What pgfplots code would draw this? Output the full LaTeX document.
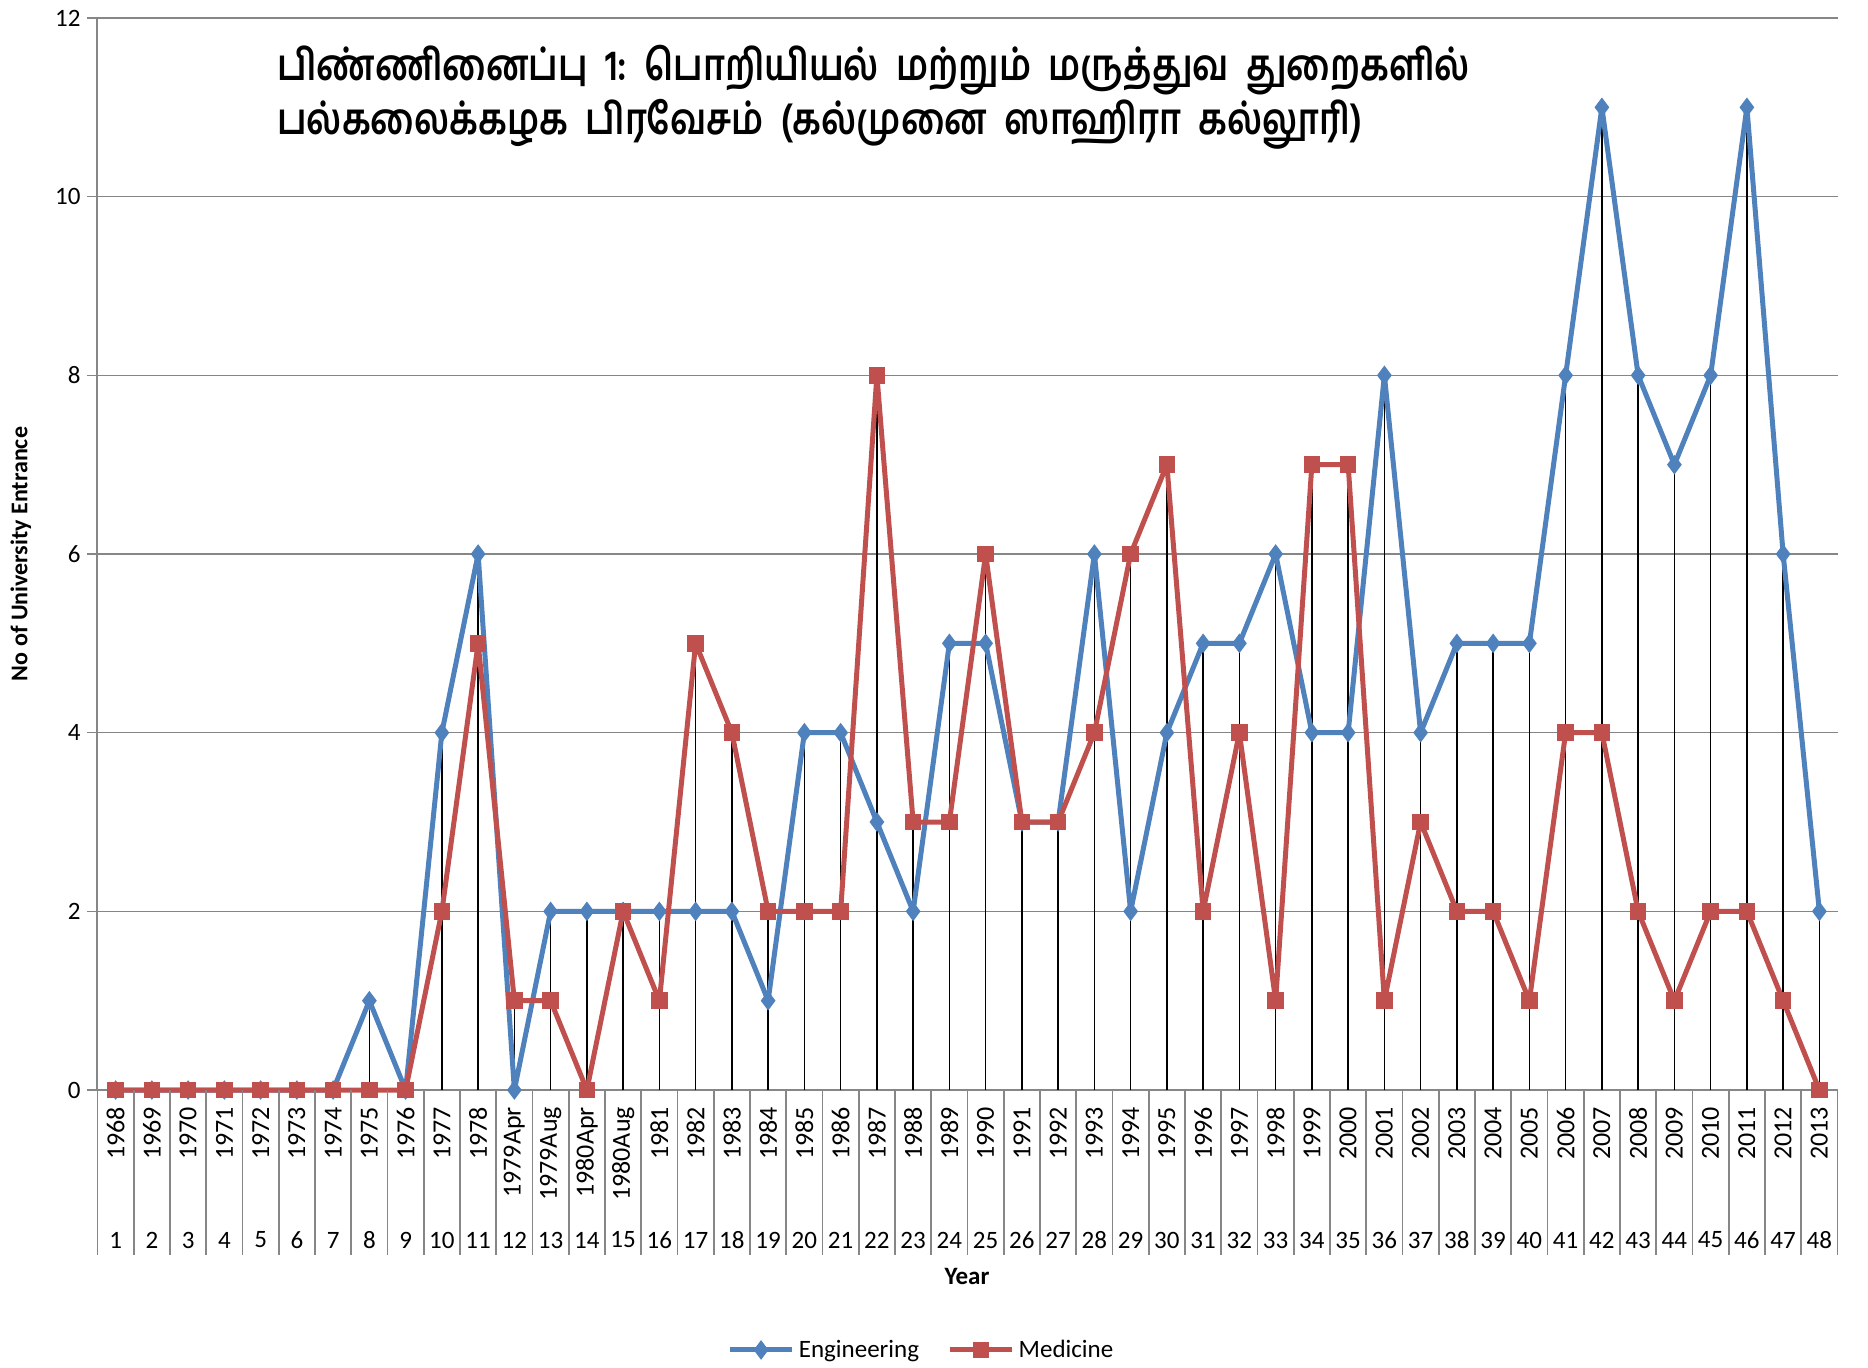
\documentclass[border=0pt]{standalone}
\usepackage{fontspec}
\setmainfont{Carlito}
\newfontfamily\tamilfont[Script=Tamil]{Hind Madurai}
\usepackage{graphicx}
\usepackage{pgfplots}
\pgfplotsset{compat=1.18}
\definecolor{eng}{HTML}{4F81BD}
\definecolor{med}{HTML}{C0504D}
\definecolor{axgray}{HTML}{868686}

\pgfplotstableread{
x eng med drop
1 0 0 0
2 0 0 0
3 0 0 0
4 0 0 0
5 0 0 0
6 0 0 0
7 0 0 0
8 1 0 1
9 0 0 0
10 4 2 4
11 6 5 6
12 0 1 1
13 2 1 2
14 2 0 2
15 2 2 2
16 2 1 2
17 2 5 5
18 2 4 4
19 1 2 2
20 4 2 4
21 4 2 4
22 3 8 8
23 2 3 3
24 5 3 5
25 5 6 6
26 3 3 3
27 3 3 3
28 6 4 6
29 2 6 6
30 4 7 7
31 5 2 5
32 5 4 5
33 6 1 6
34 4 7 7
35 4 7 7
36 8 1 8
37 4 3 4
38 5 2 5
39 5 2 5
40 5 1 5
41 8 4 8
42 11 4 11
43 8 2 8
44 7 1 7
45 8 2 8
46 11 2 11
47 6 1 6
48 2 0 2
}\datatable

\begin{document}
\begin{tikzpicture}
\begin{axis}[
  scale only axis, width=870pt, height=536pt,
  xmin=0.5, xmax=48.5, ymin=0, ymax=12,
  axis lines*=left,
  axis line style={draw=axgray, line width=1pt},
  clip=false,
  /pgf/number format/assume math mode=true,
  ytick={0,2,...,12},
  ymajorgrids, grid style={axgray, line width=0.8pt},
  tick align=outside, major tick length=5pt,
  ytick style={axgray, line width=0.8pt},
  yticklabel style={font=\fontsize{12.5}{12.5}\selectfont},
  xtick={1,...,48}, xtick style={draw=none},
  xticklabels={1968,1969,1970,1971,1972,1973,1974,1975,1976,1977,1978,1979Apr,1979Aug,1980Apr,1980Aug,1981,1982,1983,1984,1985,1986,1987,1988,1989,1990,1991,1992,1993,1994,1995,1996,1997,1998,1999,2000,2001,2002,2003,2004,2005,2006,2007,2008,2009,2010,2011,2012,2013},
  xticklabel style={rotate=90, anchor=east, font=\fontsize{13}{13}\selectfont},
  ylabel={No of University Entrance},
  ylabel style={at={(axis description cs:-0.044,0.5)}, anchor=center, font=\bfseries\fontsize{12}{12}\selectfont},
  xlabel={Year},
  xlabel style={at={(axis description cs:0.4997,-0.1744)}, anchor=center, font=\bfseries\fontsize{12.5}{12.5}\selectfont},
  legend style={at={(axis description cs:0.474,-0.2425)}, anchor=center, draw=none,
    legend columns=2, font=\fontsize{12.5}{12.5}\selectfont,
    /tikz/every even column/.append style={column sep=12pt}},
  legend image code/.code={\draw[mark repeat=2,mark phase=2] plot coordinates {(0cm,0cm)(0.55cm,0cm)(1.1cm,0cm)};},
]
\addplot[ycomb, black, line width=0.8pt, mark=none, forget plot] table[x=x, y=drop] {\datatable};
\addplot[eng, line width=2.5pt, line join=round, mark=diamond*, mark size=4.5pt, mark options={solid, line width=0.5pt, line join=miter}] table[x=x, y=eng] {\datatable};
\addlegendentry{Engineering}
\addplot[med, line width=2.5pt, line join=round, mark=square*, mark size=3.9pt, mark options={solid, line width=0.5pt, line join=miter}] table[x=x, y=med] {\datatable};
\addlegendentry{Medicine}

\pgfplotsinvokeforeach{0.5,1.5,...,48.5}{
  \draw[axgray, line width=0.8pt] (axis cs:#1,0) -- ++(0pt,-82.5pt);
}
\pgfplotsinvokeforeach{1,...,48}{
  \node[font=\fontsize{12.5}{12.5}\selectfont, yshift=-75pt] at (axis cs:#1,0) {#1};
}
\node[anchor=north west, align=left, inner sep=0pt, font=\tamilfont\bfseries\fontsize{20}{27}\selectfont]
  at (rel axis cs:0.1032,0.975)
  {\scalebox{0.88}[1.08]{பிண்ணினைப்பு\ \ 1:\ \ பொறியியல்\ \ மற்றும்\ \ மருத்துவ\ \ துறைகளில்}\\\scalebox{0.88}[1.08]{பல்கலைக்கழக\ \ பிரவேசம்\ \ (கல்முனை\ \ ஸாஹிரா\ \ கல்லூரி)}};
\end{axis}
\path (current axis.south west) ++(-48.75pt,-138.5pt) coordinate (bl);
\path (current axis.south west) ++(885.25pt,545pt) coordinate (tr);
\pgfresetboundingbox
\path (bl) rectangle (tr);
\end{tikzpicture}
\end{document}
